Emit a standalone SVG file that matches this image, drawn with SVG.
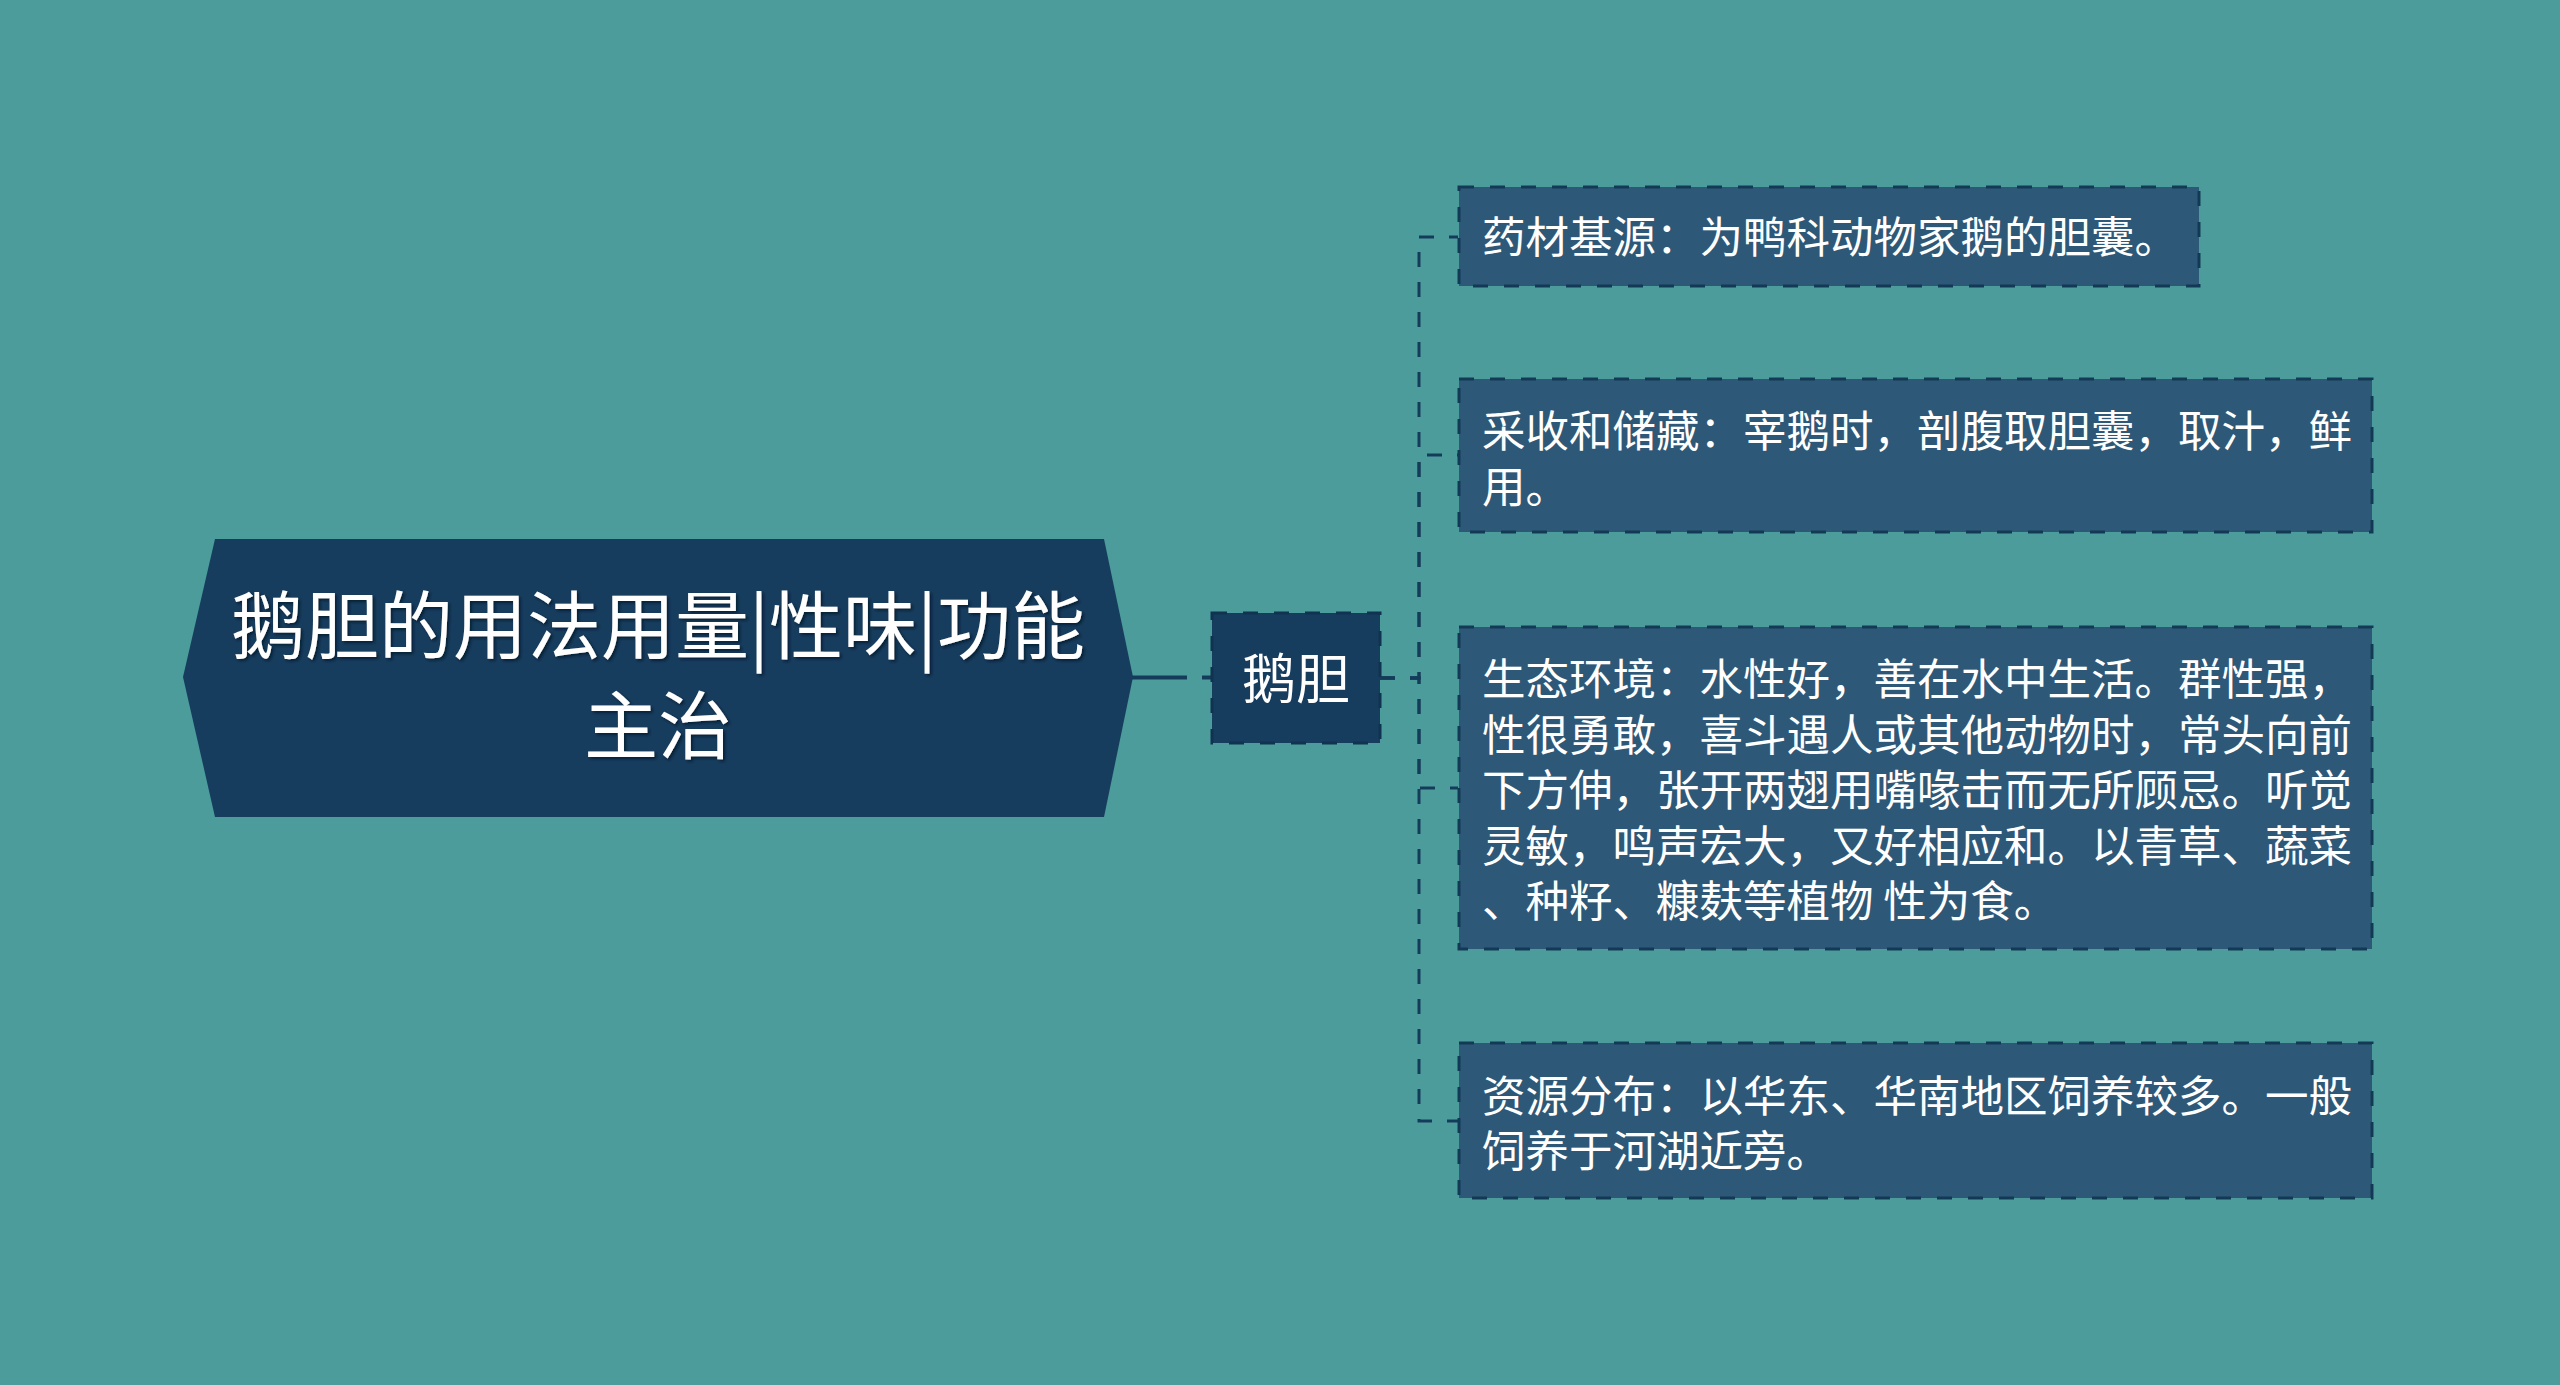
<svg xmlns="http://www.w3.org/2000/svg" width="2560" height="1385" viewBox="0 0 2560 1385">
<defs>
<style>
.txt{font-family:"Noto Sans CJK SC","Noto Sans",sans-serif;fill:#ffffff}
.leaf rect{fill:#2e5877;stroke:#123a57;stroke-width:3;stroke-dasharray:15 16}
.leaf text{font-size:43.5px}
.conn{fill:none;stroke:#143c5a;stroke-width:3;stroke-dasharray:15 15}
</style>
<filter id="sh" x="-5%" y="-20%" width="110%" height="140%">
<feDropShadow dx="2" dy="2" stdDeviation="1.5" flood-color="#05182a" flood-opacity="0.8"/>
</filter>
</defs>
<rect x="0" y="0" width="2560" height="1385" fill="#4c9c9c"/>
<g id="connectors">
<path d="M1132 677.5 H1212" fill="none" stroke="#143c5a" stroke-width="4" stroke-dasharray="55 15"/>
<path class="conn" d="M1380 678 H1419 V237 H1458"/>
<path class="conn" d="M1380 678 H1419 V455 H1458"/>
<path class="conn" d="M1380 678 H1419 V788 H1458"/>
<path class="conn" d="M1380 678 H1419 V1121 H1458"/>
</g>
<g id="root">
<polygon points="215,539 1104,539 1133,677 1104,817 215,817 183,677" fill="#173d5e"/>
<g class="txt" font-size="74" text-anchor="middle" dominant-baseline="central" filter="url(#sh)">
<text x="658" y="620">鹅胆的用法用量|性味|功能</text>
<text x="658" y="720">主治</text>
</g>
</g>
<g id="node-edan">
<rect x="1212" y="613" width="168" height="130" fill="#173d5e" stroke="#0f3350" stroke-width="3" stroke-dasharray="15 16"/>
<text class="txt" x="1296" y="675" font-size="54" text-anchor="middle" dominant-baseline="central">鹅胆</text>
</g>
<g id="leaf1" class="leaf">
<rect x="1459" y="187" width="740" height="99"/>
<text class="txt" x="1482" y="234" dominant-baseline="central">药材基源：为鸭科动物家鹅的胆囊。</text>
</g>
<g id="leaf2" class="leaf">
<rect x="1459" y="379" width="913" height="153"/>
<text class="txt" x="1482" y="428" dominant-baseline="central">采收和储藏：宰鹅时，剖腹取胆囊，取汁，鲜</text>
<text class="txt" x="1482" y="484" dominant-baseline="central">用。</text>
</g>
<g id="leaf3" class="leaf">
<rect x="1459" y="627" width="913" height="322"/>
<text class="txt" x="1482" y="676" dominant-baseline="central">生态环境：水性好，善在水中生活。群性强，</text>
<text class="txt" x="1482" y="732" dominant-baseline="central">性很勇敢，喜斗遇人或其他动物时，常头向前</text>
<text class="txt" x="1482" y="787" dominant-baseline="central">下方伸，张开两翅用嘴喙击而无所顾忌。听觉</text>
<text class="txt" x="1482" y="843" dominant-baseline="central">灵敏，鸣声宏大，又好相应和。以青草、蔬菜</text>
<text class="txt" x="1482" y="898" dominant-baseline="central">、种籽、糠麸等植物 性为食。</text>
</g>
<g id="leaf4" class="leaf">
<rect x="1459" y="1043" width="913" height="155"/>
<text class="txt" x="1482" y="1093" dominant-baseline="central">资源分布：以华东、华南地区饲养较多。一般</text>
<text class="txt" x="1482" y="1148" dominant-baseline="central">饲养于河湖近旁。</text>
</g>
</svg>
